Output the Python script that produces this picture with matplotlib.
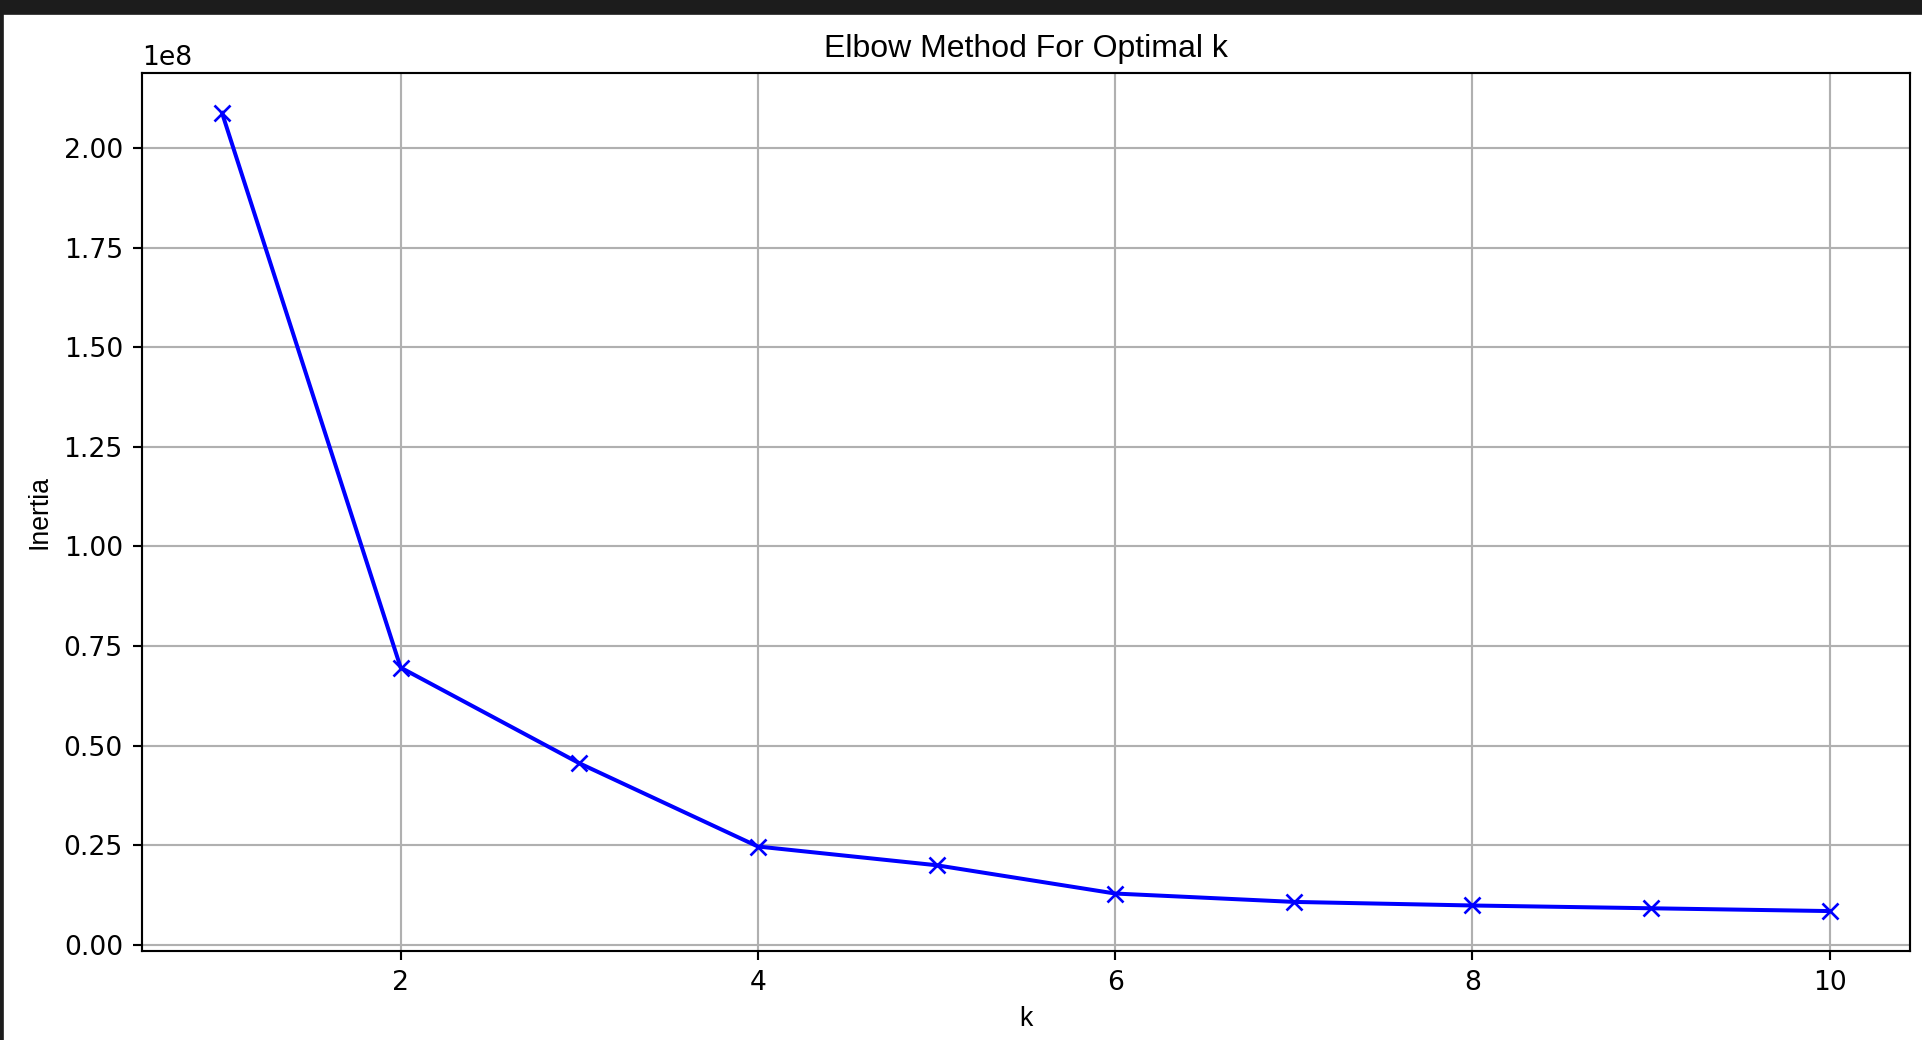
"""Elbow method plot for choosing k."""
import matplotlib

matplotlib.use("Agg")
import matplotlib.pyplot as plt
from matplotlib.patches import Rectangle

# inertia per number of clusters (in units of 1e8)
k_values = [1, 2, 3, 4, 5, 6, 7, 8, 9, 10]
inertia = [2.088, 0.696, 0.456, 0.247, 0.200, 0.129, 0.108, 0.099, 0.092, 0.085]
scale = 1e8

plt.rcParams["font.family"] = ["Liberation Sans", "DejaVu Sans"]

dpi = 192
fig = plt.figure(figsize=(1922 / dpi, 1040 / dpi), dpi=dpi)
ax = fig.add_axes([0.0737, 0.0856, 0.9938 - 0.0737, 0.9298 - 0.0856])

ax.plot(k_values, [v * scale for v in inertia], marker="x", color="blue")
ax.set_xlabel("k")
ax.set_ylabel("Inertia")
ax.set_title("Elbow Method For Optimal k")
ax.grid(True)

# the digits in the reference are a bit wider than Arial's
for lbl in ax.get_xticklabels() + ax.get_yticklabels():
    lbl.set_family("DejaVu Sans")
ax.yaxis.get_offset_text().set_family("DejaVu Sans")

# screenshot frame: dark strip on top and a thin edge on the left
fig.patches.append(Rectangle((0, 1 - 13 / 1040), 1, 13 / 1040, transform=fig.transFigure,
                             color="#1c1c1c", zorder=10))
fig.patches.append(Rectangle((0, 0), 2 / 1922, 1, transform=fig.transFigure,
                             color="#1c1c1c", zorder=10))

fig.savefig("out.png", dpi=dpi)
